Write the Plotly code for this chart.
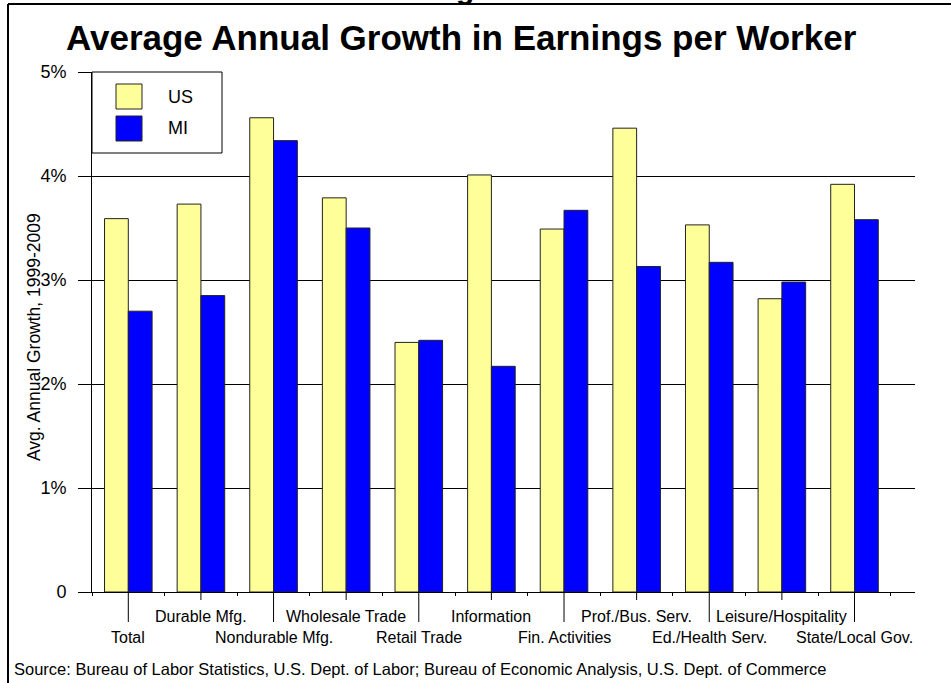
import plotly.graph_objects as go

categories = ["Total", "Durable Mfg.", "Nondurable Mfg.", "Wholesale Trade", "Retail Trade",
              "Information", "Fin. Activities", "Prof./Bus. Serv.", "Ed./Health Serv.",
              "Leisure/Hospitality", "State/Local Gov."]
us_values = [3.59, 3.73, 4.56, 3.79, 2.40, 4.01, 3.49, 4.46, 3.53, 2.82, 3.92]
mi_values = [2.70, 2.85, 4.34, 3.50, 2.42, 2.17, 3.67, 3.13, 3.17, 2.98, 3.58]
series_names = ["US", "MI"]
series_colors = ["#FFFF99", "#0000FF"]
tick_vals = [0, 1, 2, 3, 4, 5]
tick_text = ["0", "1%", "2%", "3%", "4%", "5%"]

W, H = 951, 683
L, R, T, B = 92, 36, 72, 91
PW, PH = W - L - R, H - T - B
FONT = "Arial, Liberation Sans, sans-serif"

def px(x):
    return (x - L) / PW

def py(y):
    return (H - B - y) / PH

fig = go.Figure()
for name, vals, col in zip(series_names, [us_values, mi_values], series_colors):
    fig.add_trace(go.Bar(x=categories, y=vals, name=name, showlegend=False,
                         marker=dict(color=col, line=dict(color="#222222", width=1))))

shapes = []
annotations = []

# leader lines and staggered category labels
for i, c in enumerate(categories):
    upper = (i % 2 == 1)
    end_y = 600 if upper else 622
    shapes.append(dict(type="line", xref="x", yref="paper", x0=c, x1=c,
                       y0=0, y1=py(end_y), line=dict(color="#000000", width=1)))
    annotations.append(dict(x=c, xref="x", y=0, yref="y", text=c, showarrow=False,
                            yanchor="middle", xanchor="center",
                            yshift=-(616 - 592) if upper else -(637 - 592),
                            font=dict(family=FONT, size=16, color="#000000")))

# custom legend
shapes.append(dict(type="rect", xref="paper", yref="paper", x0=px(92), x1=px(222),
                   y0=py(153), y1=py(72), line=dict(color="#000000", width=1),
                   fillcolor="#FFFFFF", layer="above"))
for k, (name, col) in enumerate(zip(series_names, series_colors)):
    top = 84 + k * 32
    shapes.append(dict(type="rect", xref="paper", yref="paper", x0=px(116), x1=px(142),
                       y0=py(top + 25), y1=py(top), line=dict(color="#222222", width=1),
                       fillcolor=col, layer="above"))
    annotations.append(dict(xref="paper", yref="paper", x=px(166), y=py(top + 12.5),
                            text=name, showarrow=False, xanchor="left", yanchor="middle",
                            font=dict(family=FONT, size=18, color="#000000")))

# page border (left and top)
shapes.append(dict(type="line", xref="paper", yref="paper", x0=px(8), x1=px(8),
                   y0=py(4), y1=py(H + 5), line=dict(color="#000000", width=2)))
shapes.append(dict(type="line", xref="paper", yref="paper", x0=px(8), x1=px(W + 5),
                   y0=py(4), y1=py(4), line=dict(color="#000000", width=2)))

# title
annotations.append(dict(xref="paper", yref="paper", x=px(461), y=py(37),
                        text="<b>Average Annual Growth in Earnings per Worker</b>",
                        showarrow=False, xanchor="center", yanchor="middle",
                        font=dict(family=FONT, size=35, color="#000000")))
# cut-off fragment above the frame
annotations.append(dict(xref="paper", yref="paper", x=px(465), y=py(4),
                        text="<b>g</b>", showarrow=False, xanchor="center", yanchor="bottom",
                        yshift=-3, font=dict(family=FONT, size=30, color="#000000")))
# y title
annotations.append(dict(xref="paper", yref="paper", x=px(34), y=py(337),
                        text="Avg. Annual Growth, 1999-2009", textangle=-90,
                        showarrow=False, xanchor="center", yanchor="middle",
                        font=dict(family=FONT, size=17.5, color="#000000")))
# source
annotations.append(dict(xref="paper", yref="paper", x=px(12), y=py(669),
                        text="Source: Bureau of Labor Statistics, U.S. Dept. of Labor; Bureau of Economic Analysis, U.S. Dept. of Commerce",
                        showarrow=False, xanchor="left", yanchor="middle",
                        font=dict(family=FONT, size=16.5, color="#000000")))

fig.update_layout(
    width=W, height=H,
    margin=dict(l=L, r=R, t=T, b=B, pad=0),
    paper_bgcolor="#FFFFFF", plot_bgcolor="#FFFFFF",
    barmode="group", bargap=0.345, bargroupgap=0,
    shapes=shapes, annotations=annotations,
    xaxis=dict(showticklabels=False, ticks="outside", tickson="boundaries", ticklen=3,
               tickcolor="#000000", showgrid=False, showline=True, linecolor="#000000",
               linewidth=1, zeroline=False),
    yaxis=dict(range=[0, 5], tickvals=tick_vals, ticktext=tick_text, ticks="outside",
               ticklen=13, tickcolor="#000000", showgrid=True, gridcolor="#000000",
               gridwidth=1, showline=True, linecolor="#000000", linewidth=1,
               zeroline=False, ticklabelstandoff=8,
               tickfont=dict(family=FONT, size=18, color="#000000")),
    font=dict(family=FONT),
)

fig.write_html("out.html")
